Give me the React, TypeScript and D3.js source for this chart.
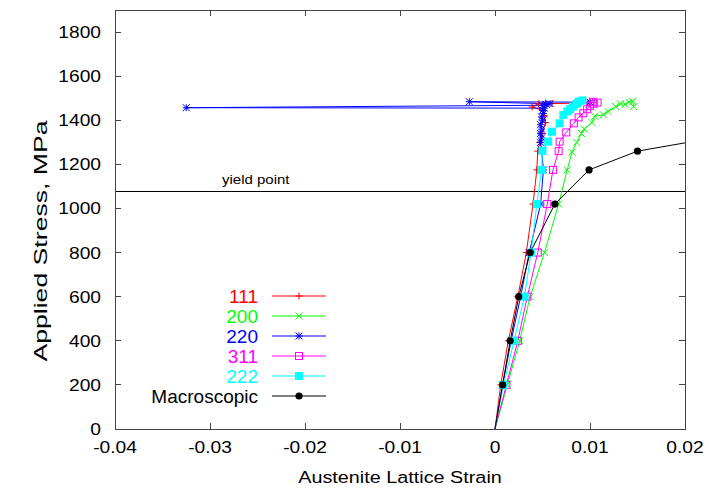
import React from "react";
import * as d3 from "d3";

const W = 709;
const H = 491;
const M = { left: 115, right: 24, top: 10, bottom: 62 };

const xTicks = [-0.04, -0.03, -0.02, -0.01, 0, 0.01, 0.02];
const yTicks = [0, 200, 400, 600, 800, 1000, 1200, 1400, 1600, 1800];
const yieldStress = 1075;

const s111: [number, number][] = [
  [0, 0], [0.0006, 200], [0.0014, 400], [0.0024, 600], [0.0033, 800], [0.004, 1020],
  [0.0044, 1175], [0.0045, 1260], [0.0047, 1300], [0.005, 1340], [0.0053, 1390],
  [0.0052, 1420], [0.005, 1445], [0.0039, 1460], [0.0046, 1475], [0.0053, 1478],
  [0.006, 1476], [0.0098, 1478],
];
const s200: [number, number][] = [
  [0, 0], [0.0013, 200], [0.0026, 400], [0.0037, 600], [0.0052, 800], [0.0067, 1020],
  [0.0076, 1175], [0.0081, 1255], [0.0086, 1300], [0.0091, 1340], [0.0094, 1360],
  [0.0102, 1390], [0.0105, 1418], [0.0114, 1425], [0.0119, 1440], [0.0127, 1462],
  [0.0132, 1475], [0.0137, 1472], [0.0141, 1482], [0.0145, 1486], [0.0146, 1462],
];
const s220: [number, number][] = [
  [0, 0], [0.0008, 200], [0.0017, 400], [0.0027, 600], [0.0036, 800], [0.0048, 1020],
  [0.0051, 1175], [0.0049, 1265], [0.0048, 1300], [0.0049, 1320], [0.0048, 1340],
  [0.0049, 1360], [0.0048, 1380], [0.005, 1400], [0.0049, 1415], [0.0051, 1430],
  [0.005, 1445], [0.0052, 1455], [-0.0325, 1457], [0.005, 1468], [0.0054, 1472],
  [0.0058, 1475], [-0.0027, 1484], [0.01, 1482],
];
const s311: [number, number][] = [
  [0, 0], [0.0012, 200], [0.0024, 400], [0.0034, 600], [0.0045, 800], [0.0055, 1020],
  [0.0061, 1175], [0.0067, 1260], [0.0068, 1303], [0.0075, 1345], [0.0083, 1386],
  [0.0088, 1413], [0.0093, 1432], [0.0097, 1450], [0.01, 1465], [0.0104, 1475],
  [0.0103, 1484], [0.0108, 1480],
];
const s222: [number, number][] = [
  [0, 0], [0.0009, 200], [0.002, 400], [0.0031, 600], [0.0038, 800], [0.0044, 1020],
  [0.0049, 1175], [0.005, 1262], [0.0056, 1303], [0.006, 1348], [0.0068, 1386],
  [0.0072, 1424], [0.0076, 1440], [0.0079, 1450], [0.0082, 1462], [0.0086, 1475],
  [0.0088, 1484], [0.0092, 1490],
];
const sMacro: [number, number][] = [
  [0, 0], [0.0008, 200], [0.0016, 400], [0.0025, 600], [0.0037, 800], [0.0063, 1020],
  [0.0099, 1175], [0.015, 1260], [0.025, 1335],
];

const seriesNames = ["111", "200", "220", "311", "222", "Macroscopic"];
const seriesColors = ["#ff0000", "#00ff00", "#0000ff", "#ff00ff", "#00ffff", "#000000"];
const seriesMarkers = ["plus", "cross", "star", "openSquare", "filledSquare", "circle"];
const seriesData = [s111, s200, s220, s311, s222, sMacro];

const FONT = "'Liberation Sans', Arial, Helvetica, sans-serif";
const SX = 1.2;

function Marker({ type, x, y, color }: { type: string; x: number; y: number; color: string }) {
  const h = 3.5;
  switch (type) {
    case "plus":
      return (
        <path d={`M${x - h},${y}H${x + h}M${x},${y - h}V${y + h}`} stroke={color} strokeWidth={1} fill="none" />
      );
    case "cross":
      return (
        <path d={`M${x - h},${y - h}L${x + h},${y + h}M${x - h},${y + h}L${x + h},${y - h}`} stroke={color} strokeWidth={1} fill="none" />
      );
    case "star":
      return (
        <path
          d={`M${x - h},${y}H${x + h}M${x},${y - h}V${y + h}M${x - h},${y - h}L${x + h},${y + h}M${x - h},${y + h}L${x + h},${y - h}`}
          stroke={color}
          strokeWidth={1}
          fill="none"
        />
      );
    case "openSquare":
      return <rect x={x - h} y={y - h} width={2 * h} height={2 * h} stroke={color} strokeWidth={1} fill="none" />;
    case "filledSquare":
      return <rect x={x - 4} y={y - 4} width={8} height={8} fill={color} />;
    default:
      return <circle cx={x} cy={y} r={3.6} fill={color} />;
  }
}

function SText({ x, y, anchor, size, children, color = "#000", sx = SX }: any) {
  return (
    <text
      transform={`translate(${x},${y}) scale(${sx},1)`}
      textAnchor={anchor}
      fontSize={size}
      fontFamily={FONT}
      fill={color}
    >
      {children}
    </text>
  );
}

export default function App() {
  const x = d3.scaleLinear().domain([-0.04, 0.02]).range([M.left, W - M.right]);
  const y = d3.scaleLinear().domain([0, 1900]).range([H - M.bottom, M.top]);
  const line = d3
    .line<[number, number]>()
    .x((d) => x(d[0]))
    .y((d) => y(d[1]));

  const x0 = x.range()[0];
  const x1 = x.range()[1];
  const y0 = y.range()[0];
  const y1 = y.range()[1];
  const tickLen = 6;
  const frame = "#444";

  const legendTextX = 258;
  const legendLineX0 = 272;
  const legendLineX1 = 326;
  const legendY0 = 296;
  const legendDy = 20;

  return (
    <svg width={W} height={H} style={{ position: "absolute", left: 0, top: 0, background: "#fff" }}>
      <defs>
        <clipPath id="plotClip">
          <rect x={x0} y={y1} width={x1 - x0} height={y0 - y1} />
        </clipPath>
      </defs>
      <rect x={0} y={0} width={W} height={H} fill="#fff" />

      {/* ticks */}
      {yTicks.map((t) => (
        <g key={"y" + t}>
          <line x1={x0} x2={x0 + tickLen} y1={y(t)} y2={y(t)} stroke={frame} shapeRendering="crispEdges" />
          <line x1={x1} x2={x1 - tickLen} y1={y(t)} y2={y(t)} stroke={frame} shapeRendering="crispEdges" />
          <SText x={101} y={y(t) + 6} anchor="end" size={16}>
            {String(t)}
          </SText>
        </g>
      ))}
      {xTicks.map((t) => (
        <g key={"x" + t}>
          <line x1={x(t)} x2={x(t)} y1={y0} y2={y0 - tickLen} stroke={frame} shapeRendering="crispEdges" />
          <line x1={x(t)} x2={x(t)} y1={y1} y2={y1 + tickLen} stroke={frame} shapeRendering="crispEdges" />
          <SText x={x(t)} y={453} anchor="middle" size={16}>
            {t === 0 ? "0" : String(t)}
          </SText>
        </g>
      ))}

      {/* yield line */}
      <line
        x1={x0}
        x2={x1}
        y1={y(yieldStress)}
        y2={y(yieldStress)}
        stroke="#000"
        strokeWidth={1}
        shapeRendering="crispEdges"
      />
      <SText x={222} y={y(yieldStress) - 8} anchor="start" size={12.5}>
        yield point
      </SText>

      {/* series */}
      <g clipPath="url(#plotClip)">
        {seriesData.map((data, i) => (
          <path key={"l" + i} d={line(data) || ""} fill="none" stroke={seriesColors[i]} strokeWidth={1} />
        ))}
        {seriesData.map((data, i) =>
          data
            .filter((d) => d[1] > 0)
            .map((d, j) => (
              <Marker key={`m${i}-${j}`} type={seriesMarkers[i]} x={x(d[0])} y={y(d[1])} color={seriesColors[i]} />
            ))
        )}
      </g>

      {/* frame */}
      <rect
        x={x0}
        y={y1}
        width={x1 - x0}
        height={y0 - y1}
        fill="none"
        stroke={frame}
        strokeWidth={1}
        shapeRendering="crispEdges"
      />

      {/* axis labels */}
      <SText x={400} y={483} anchor="middle" size={16.5}>
        Austenite Lattice Strain
      </SText>
      <text
        transform={`translate(47,241) rotate(-90) scale(1.44,1)`}
        textAnchor="middle"
        fontSize={18.5}
        fontFamily={FONT}
        fill="#000"
      >
        Applied Stress, MPa
      </text>

      {/* legend */}
      {seriesNames.map((name, i) => {
        const ly = legendY0 + i * legendDy;
        return (
          <g key={"lg" + i}>
            <text
              x={legendTextX}
              y={ly + 7}
              textAnchor="end"
              fontSize={19}
              fontFamily={FONT}
              fill={seriesColors[i]}
            >
              {name}
            </text>
            <line x1={legendLineX0} x2={legendLineX1} y1={ly} y2={ly} stroke={seriesColors[i]} strokeWidth={1} />
            <Marker type={seriesMarkers[i]} x={(legendLineX0 + legendLineX1) / 2} y={ly} color={seriesColors[i]} />
          </g>
        );
      })}
    </svg>
  );
}
